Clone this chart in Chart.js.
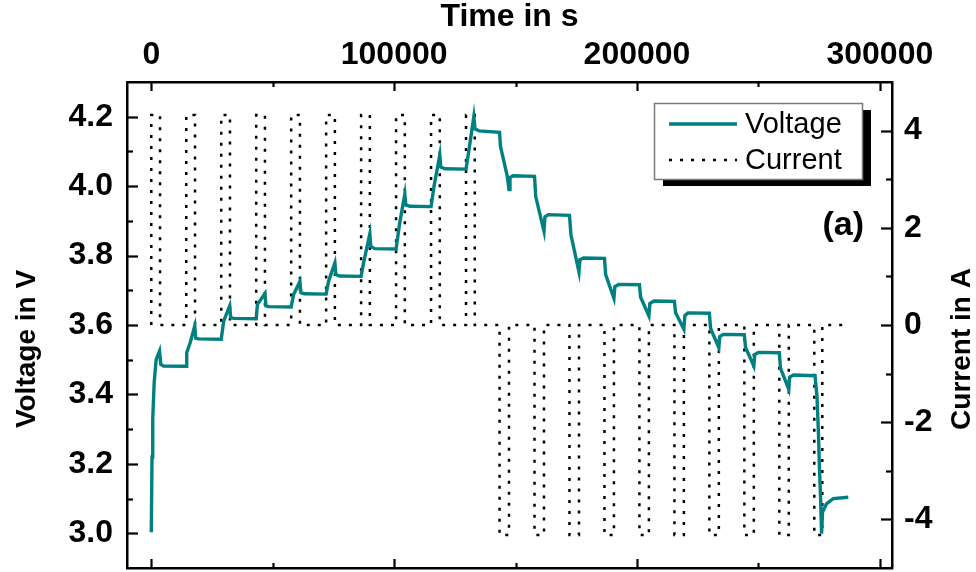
<!DOCTYPE html>
<html>
<head>
<meta charset="utf-8">
<script src="https://cdn.jsdelivr.net/npm/chart.js@4/dist/chart.umd.min.js"></script>
<style>
  html, body { margin: 0; padding: 0; background: #fff; }
  canvas { display: block; }
</style>
</head>
<body>
<canvas id="c" width="976" height="572"></canvas>
<script>
// Pulse test record: cell voltage (V) and applied current (A) versus time (s)

// Voltage trace: time stamps and measured voltage
const voltTime = [
  0, 300, 600, 1200, 2000, 3400, 3900, 5000, 14400,
  14600, 16000, 17900, 18300, 19500, 28800,
  29800, 32300, 32700, 34000, 43200,
  43700, 46800, 47200, 48500, 57600,
  58600, 61200, 61600, 63000, 72000,
  73000, 75600, 76000, 77500, 86400,
  87400, 90000, 90400, 92000, 100800,
  102200, 104400, 104800, 106500, 115200,
  116400, 118800, 119200, 121000, 129600,
  130800, 132800, 133300, 135000, 143400,
  143800, 146600, 147300, 147700, 149000, 157800,
  158300, 161700, 162100, 163500, 172200,
  172800, 176100, 176500, 178000, 186600,
  187100, 190500, 190900, 192500, 201000,
  201500, 204900, 205300, 207000, 215400,
  215900, 219300, 219700, 221000, 229800,
  230300, 233700, 234100, 235500, 244200,
  244700, 248100, 248500, 250000, 258600,
  259100, 262500, 262900, 264500, 273300,
  274100, 274700, 275100, 275600, 276000,
  276400, 278000, 280800, 287000
];
const voltValue = [
  3.003, 3.22, 3.33, 3.435, 3.500, 3.525, 3.487, 3.482, 3.481,
  3.521, 3.549, 3.597, 3.562, 3.560, 3.559,
  3.611, 3.655, 3.621, 3.619, 3.618,
  3.659, 3.691, 3.655, 3.653, 3.652,
  3.688, 3.726, 3.693, 3.690, 3.689,
  3.726, 3.779, 3.745, 3.741, 3.740,
  3.779, 3.863, 3.826, 3.820, 3.819,
  3.890, 3.977, 3.946, 3.942, 3.941,
  3.999, 4.090, 4.055, 4.050, 4.049,
  4.104, 4.200, 4.165, 4.159, 4.155,
  4.114, 4.028, 3.990, 4.025, 4.030, 4.028,
  3.970, 3.870, 3.912, 3.918, 3.916,
  3.860, 3.753, 3.788, 3.793, 3.792,
  3.745, 3.677, 3.711, 3.717, 3.716,
  3.680, 3.626, 3.662, 3.669, 3.668,
  3.635, 3.588, 3.627, 3.635, 3.634,
  3.590, 3.535, 3.567, 3.573, 3.572,
  3.535, 3.482, 3.515, 3.521, 3.520,
  3.475, 3.415, 3.450, 3.456, 3.454,
  3.396, 3.291, 3.195, 3.100, 2.999,
  3.061, 3.085, 3.100, 3.104
];

// Current pulses: start / end times (s) and amplitudes (A)
const chargeStart = [0, 14400, 28800, 43200, 57600, 72000, 86400, 100800, 115200, 129600];
const chargeEnd   = [3600, 18000, 32400, 46800, 61200, 75600, 90000, 104400, 118800, 133200];
const dischargeStart = [143400, 157800, 172200, 186600, 201000, 215400, 229800, 244200, 258600, 273000];
const dischargeEnd   = [147300, 161700, 176100, 190500, 204900, 219300, 233700, 248100, 262500, 276300];
const chargeCurrent = 4.32;
const dischargeCurrent = -4.32;
const recordEnd = 286400;

// Axis ticks and labels
const timeTicks = [0, 100000, 200000, 300000];
const timeTickLabels = ['0', '100000', '200000', '300000'];
const voltTicks = [3.0, 3.2, 3.4, 3.6, 3.8, 4.0, 4.2];
const voltTickLabels = ['3.0', '3.2', '3.4', '3.6', '3.8', '4.0', '4.2'];
const currTicks = [-4, -2, 0, 2, 4];
const currTickLabels = ['-4', '-2', '0', '2', '4'];

// Build point tables for the library
const voltagePoints = voltTime.map((t, i) => ({ x: t, y: voltValue[i] }));
const currentPoints = [{ x: 0, y: 0 }];
function addPulses(starts, ends, amp) {
  starts.forEach((s, i) => {
    currentPoints.push({ x: s, y: 0 }, { x: s, y: amp }, { x: ends[i], y: amp }, { x: ends[i], y: 0 });
  });
}
addPulses(chargeStart, chargeEnd, chargeCurrent);
addPulses(dischargeStart, dischargeEnd, dischargeCurrent);
currentPoints.push({ x: recordEnd, y: 0 });

const FONT = '"Liberation Sans", Arial, Helvetica, sans-serif';
Chart.defaults.font.family = FONT;
Chart.defaults.color = '#000';

function midpoints(arr) {
  const out = [];
  for (let i = 0; i < arr.length - 1; i++) out.push((arr[i] + arr[i + 1]) / 2);
  return out;
}

// Fixed outer box sizes so the plot frame sits where it should
function fixVertical(width) {
  return s => { s.width = width; s.paddingTop = 0; s.paddingBottom = 0; };
}
function fixHorizontal(height) {
  return s => { s.height = height; s.paddingLeft = 0; s.paddingRight = 0; };
}

// Inward tick marks, axis titles on the value axes, panel tag and boxed legend
const decorations = {
  id: 'decorations',
  afterDraw(chart) {
    const { ctx, chartArea: a, scales } = chart;
    const MAJ = 9, MIN = 5;
    ctx.save();
    ctx.strokeStyle = '#000';
    ctx.lineWidth = 2.2;
    ctx.setLineDash([]);
    const seg = (x1, y1, x2, y2) => { ctx.beginPath(); ctx.moveTo(x1, y1); ctx.lineTo(x2, y2); ctx.stroke(); };
    const xt = (v, len) => {
      const px = Math.round(scales.x.getPixelForValue(v)) + 0.5;
      seg(px, a.top, px, a.top + len);
      seg(px, a.bottom, px, a.bottom - len);
    };
    timeTicks.forEach(v => xt(v, MAJ));
    midpoints(timeTicks).forEach(v => xt(v, MIN));
    const yl = (v, len) => { const py = Math.round(scales.y.getPixelForValue(v)) + 0.5; seg(a.left, py, a.left + len, py); };
    voltTicks.forEach(v => yl(v, MAJ + 2));
    midpoints(voltTicks).forEach(v => yl(v, MIN + 1));
    const yr = (v, len) => { const py = Math.round(scales.y2.getPixelForValue(v)) + 0.5; seg(a.right, py, a.right - len, py); };
    currTicks.forEach(v => yr(v, MAJ + 2));
    midpoints(currTicks).forEach(v => yr(v, MIN + 1));

    // value-axis titles
    ctx.fillStyle = '#000';
    ctx.font = 'bold 28px ' + FONT;
    ctx.textAlign = 'center';
    ctx.textBaseline = 'middle';
    ctx.save(); ctx.translate(27, 349); ctx.rotate(-Math.PI / 2); ctx.fillText('Voltage in V', 0, 0); ctx.restore();
    ctx.save(); ctx.translate(962, 349); ctx.rotate(-Math.PI / 2); ctx.fillText('Current in A', 0, 0); ctx.restore();

    // panel tag
    ctx.font = 'bold 34px ' + FONT;
    ctx.textAlign = 'right';
    ctx.fillText('(a)', 864, 226);

    // legend with drop shadow
    const bx = 654, by = 103, bw = 208, bh = 76;
    ctx.fillStyle = '#000';
    ctx.fillRect(bx + 9, by + 7, bw, bh);
    ctx.fillStyle = '#fff';
    ctx.fillRect(bx, by, bw, bh);
    ctx.strokeStyle = '#7a7a7a';
    ctx.lineWidth = 1.5;
    ctx.strokeRect(bx + 0.5, by + 0.5, bw, bh);
    const rows = [124, 160];
    chart.data.datasets.forEach((ds, i) => {
      const y = rows[i];
      ctx.strokeStyle = ds.borderColor;
      ctx.lineWidth = ds.borderWidth;
      ctx.setLineDash(ds.borderDash || []);
      seg(669, y, 737, y);
      ctx.setLineDash([]);
      ctx.fillStyle = '#000';
      ctx.font = '29px ' + FONT;
      ctx.textAlign = 'left';
      ctx.textBaseline = 'middle';
      ctx.fillText(ds.label, 745, y + 1);
    });
    ctx.restore();
  }
};

const frame = { display: true, color: '#000', width: 2.5 };
const noGrid = { display: false, drawTicks: false };

new Chart(document.getElementById('c'), {
  type: 'line',
  data: {
    datasets: [
      {
        label: 'Voltage', data: voltagePoints, xAxisID: 'x', yAxisID: 'y',
        borderColor: '#008080', borderWidth: 3.4, pointRadius: 0, tension: 0, fill: false
      },
      {
        label: 'Current', data: currentPoints, xAxisID: 'x', yAxisID: 'y2',
        borderColor: '#000', borderWidth: 2.5, borderDash: [3, 8], pointRadius: 0, tension: 0, fill: false
      }
    ]
  },
  options: {
    responsive: false,
    animation: false,
    devicePixelRatio: 1,
    layout: { padding: 0 },
    plugins: { legend: { display: false }, tooltip: { enabled: false } },
    scales: {
      x: {
        type: 'linear', position: 'top', min: -10000, max: 305000,
        grid: noGrid, border: frame,
        afterBuildTicks: s => { s.ticks = timeTicks.map(v => ({ value: v })); },
        afterFit: fixHorizontal(82),
        ticks: {
          padding: 8, autoSkip: false, maxRotation: 0,
          font: { size: 32, weight: 'bold' },
          callback: (v, i) => timeTickLabels[i]
        },
        title: {
          display: true, text: 'Time in s',
          font: { size: 32, weight: 'bold', lineHeight: 1 },
          padding: { top: 1, bottom: 0 }
        }
      },
      xb: {
        type: 'linear', position: 'bottom', min: -10000, max: 305000,
        grid: noGrid, border: frame,
        ticks: { display: false },
        afterFit: fixHorizontal(4)
      },
      y: {
        type: 'linear', position: 'left', min: 2.9, max: 4.3,
        grid: noGrid, border: frame,
        afterBuildTicks: s => { s.ticks = voltTicks.map(v => ({ value: v })); },
        afterFit: fixVertical(127),
        ticks: {
          padding: 14, autoSkip: false,
          font: { size: 32, weight: 'bold' },
          callback: (v, i) => voltTickLabels[i]
        }
      },
      y2: {
        type: 'linear', position: 'right', min: -5, max: 5,
        grid: noGrid, border: frame,
        afterBuildTicks: s => { s.ticks = currTicks.map(v => ({ value: v })); },
        afterFit: fixVertical(84),
        ticks: {
          padding: 12, autoSkip: false,
          font: { size: 32, weight: 'bold' },
          callback: (v, i) => currTickLabels[i]
        }
      }
    }
  },
  plugins: [decorations]
});
</script>
</body>
</html>
